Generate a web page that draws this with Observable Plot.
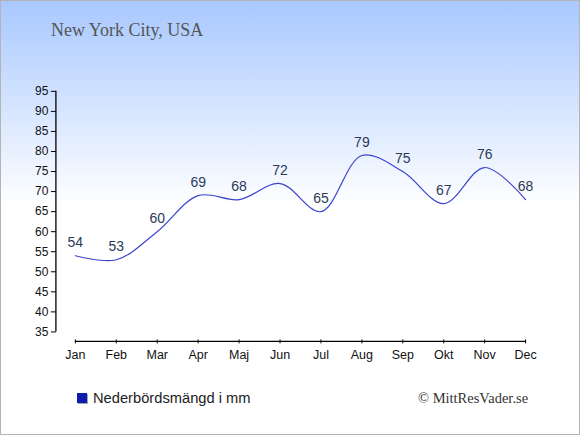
<!DOCTYPE html>
<html>
<head>
<meta charset="utf-8">
<script src="https://cdn.jsdelivr.net/npm/d3@7"></script>
<script src="https://cdn.jsdelivr.net/npm/@observablehq/plot@0.6"></script>
<style>
  html, body { margin: 0; padding: 0; }
  #wrap {
    position: relative; width: 580px; height: 435px; box-sizing: border-box;
    border: 1px solid #b4b4b4;
    background: linear-gradient(to bottom, #a8c8ff 0px, #ffffff 205px, #ffffff 435px);
    overflow: hidden;
  }
  #title {
    position: absolute; left: 50px; top: 19px;
    font: 18px "Liberation Serif", "DejaVu Serif", serif; color: #555;
  }
  #chart { position: absolute; left: -1px; top: -1px; }
  #legend {
    position: absolute; left: 76px; top: 389px;
    font: 14.7px "Liberation Sans", Arial, sans-serif; color: #222;
    display: flex; align-items: center;
  }
  #legend .sw { width: 10px; height: 10px; background: #0c1cae; margin-right: 6px; box-shadow: 1px 1px 0 #9aa; }
  #copy {
    position: absolute; left: 417px; top: 389px;
    font: 14.5px "Liberation Serif", "DejaVu Serif", serif; color: #333;
  }
</style>
</head>
<body>
<div id="wrap">
  <div id="title">New York City, USA</div>
  <div id="chart"></div>
  <div id="legend"><span class="sw"></span><span>Nederbördsmängd i mm</span></div>
  <div id="copy">© MittResVader.se</div>
</div>
<script>
const months = ["Jan","Feb","Mar","Apr","Maj","Jun","Jul","Aug","Sep","Okt","Nov","Dec"];
const precipitation = [54, 53, 60, 69, 68, 72, 65, 79, 75, 67, 76, 68];
const yTicks = [35, 40, 45, 50, 55, 60, 65, 70, 75, 80, 85, 90, 95];

const data = months.map((m, i) => ({month: m, value: precipitation[i]}));

const plot = Plot.plot({
  width: 580,
  height: 380,
  marginLeft: 56,
  marginBottom: 40,
  marginTop: 0,
  marginRight: 0,
  style: {background: "transparent", fontFamily: "'Liberation Sans', Arial, sans-serif", color: "#111"},
  x: {type: "point", domain: months, range: [75, 526], padding: 0},
  y: {domain: [35, 95], range: [332, 91]},
  marks: [
    Plot.axisY({ticks: yTicks, tickSize: 5, tickPadding: 3, fontSize: 12, label: null, stroke: "#000"}),
    Plot.axisX({tickSize: 4, tickPadding: 6, fontSize: 12.5, label: null, stroke: "#000"}),
    Plot.line(data, {x: "month", y: "value", curve: "catmull-rom", stroke: "#3a44cc", strokeWidth: 1.2}),
    Plot.text(data, {x: "month", y: "value", text: d => String(d.value), dy: -13, fontSize: 14, fill: "#2b3a58"})
  ]
});

const sx = plot.scale("x"), sy = plot.scale("y");
const svg = d3.select(plot);
svg.append("line")
  .attr("x1", 56).attr("x2", 56)
  .attr("y1", sy.apply(35)).attr("y2", sy.apply(95))
  .attr("stroke", "#000").attr("stroke-width", 1.3);
svg.append("line")
  .attr("x1", sx.apply(months[0])).attr("x2", sx.apply(months[months.length - 1]))
  .attr("y1", 342).attr("y2", 342)
  .attr("stroke", "#000").attr("stroke-width", 1.3);

document.getElementById("chart").appendChild(plot);
</script>
</body>
</html>
